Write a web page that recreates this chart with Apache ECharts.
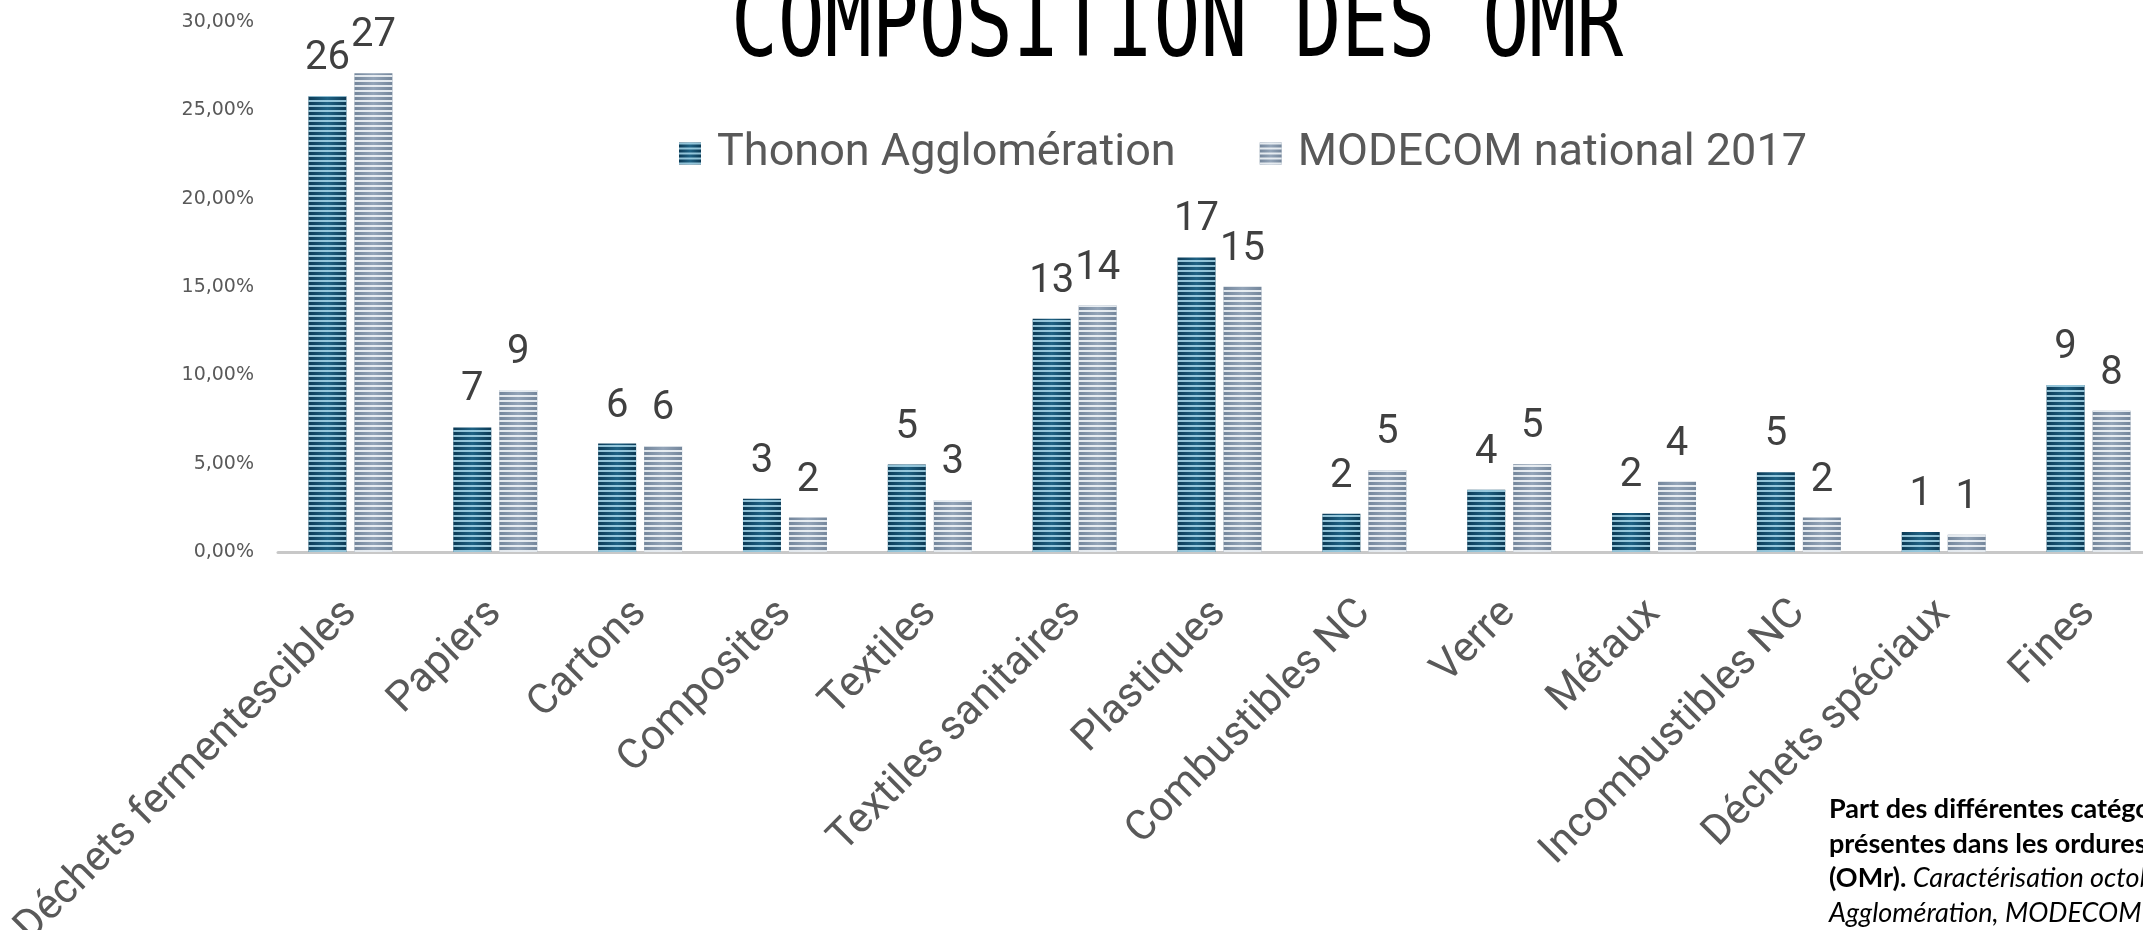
<!DOCTYPE html>
<html>
<head>
<meta charset="utf-8">
<script src="https://cdn.jsdelivr.net/npm/echarts@6/dist/echarts.min.js"></script>
<style>
html,body{margin:0;padding:0;background:#fff;overflow:hidden;}
#chart{width:2143px;height:930px;}
</style>
</head>
<body>
<div id="chart"></div>
<script>
const categories = ['Déchets fermentescibles','Papiers','Cartons','Composites','Textiles','Textiles sanitaires','Plastiques','Combustibles NC','Verre','Métaux','Incombustibles NC','Déchets spéciaux','Fines'];
const seriesNames = ['Thonon Agglomération','MODECOM national 2017'];
const thonon = [25.8, 7.05, 6.14, 3.02, 4.95, 13.2, 16.67, 2.17, 3.53, 2.21, 4.52, 1.13, 9.45];
const modecom = [27.1, 9.17, 5.99, 1.95, 2.95, 13.95, 15.02, 4.63, 4.97, 3.97, 1.95, 0.98, 8.0];
const yMin = 0, yMax = 30, yStep = 5;
const titleText = 'COMPOSITION DES OMR';
const captionLines = [
  ['b', 'Part des différentes catégories de déchets'],
  ['b', 'présentes dans les ordures ménagères résiduelles'],
  ['b', '(OMr).', 'i', ' Caractérisation octobre Thonon'],
  ['i', 'Agglomération, MODECOM national 2017.']
];

function grad(edge, center) {
  return new echarts.graphic.LinearGradient(0, 0, 1, 0, [
    {offset: 0, color: edge}, {offset: 0.5, color: center}, {offset: 1, color: edge}
  ]);
}

const chart = echarts.init(document.getElementById('chart'), null, {renderer: 'canvas'});

const labelCfg = {
  show: true, position: 'top', distance: 17,
  fontSize: 40, color: '#404040', fontFamily: 'Roboto',
  formatter: p => Math.round(p.value)
};

const captionText = captionLines.map(l => {
  let s = '';
  for (let i = 0; i < l.length; i += 2) s += '{' + l[i] + '|' + l[i+1] + '}';
  return s;
}).join('\n');

chart.setOption({
  animation: false,
  grid: {left: 278, top: 22, width: 1883, height: 530, containLabel: false, outerBoundsMode: 'none'},
  legend: {
    left: 674, top: 126, icon: 'rect',
    itemWidth: 22, itemHeight: 22, itemGap: 84,
    textStyle: {fontSize: 45, color: '#595959', fontFamily: 'Roboto', padding: [0, 0, 0, 11]},
    data: seriesNames
  },
  xAxis: {
    type: 'category', data: categories,
    axisLine: {lineStyle: {color: '#C8C8C8', width: 3}},
    axisTick: {show: false},
    axisLabel: {interval: 0, rotate: 45, fontSize: 42, color: '#595959', fontFamily: 'Roboto', margin: 55}
  },
  yAxis: {
    type: 'value', min: yMin, max: yMax, interval: yStep,
    splitLine: {show: false}, axisLine: {show: false}, axisTick: {show: false},
    axisLabel: {
      fontSize: 19, color: '#595959', fontFamily: 'DejaVu Sans', margin: 24,
      formatter: v => v.toFixed(2).replace('.', ',') + '%'
    }
  },
  series: [
    {
      name: seriesNames[0], type: 'bar', data: thonon, barWidth: 38, barGap: '21%',
      itemStyle: {
        color: grad('#0c3a55', '#1f6284'),
        decal: {symbol: 'rect', symbolSize: 1, dashArrayX: [4, 0], dashArrayY: [2, 3], color: 'rgba(175,222,240,0.82)'}
      },
      label: labelCfg
    },
    {
      name: seriesNames[1], type: 'bar', data: modecom, barWidth: 38,
      itemStyle: {
        color: grad('#74869b', '#93a4b8'),
        decal: {symbol: 'rect', symbolSize: 1, dashArrayX: [4, 0], dashArrayY: [2, 3], color: 'rgba(246,249,252,0.85)'}
      },
      label: labelCfg
    }
  ],
  graphic: [
    {
      type: 'text', x: 1177, y: 30, scaleX: 0.78,
      style: {text: titleText, font: '100px "DejaVu Sans Mono"', fill: '#000', textAlign: 'center', textVerticalAlign: 'middle', align: 'center', verticalAlign: 'middle'}
    },
    {
      type: 'text', x: 1829, y: 792,
      style: {
        text: captionText, fill: '#000', textAlign: 'left', textVerticalAlign: 'top', align: 'left', verticalAlign: 'top',
        rich: {
          b: {fontFamily: 'Lato', fontWeight: 'bold', fontSize: 27, lineHeight: 34.6, fill: '#000'},
          i: {fontFamily: 'Lato', fontStyle: 'italic', fontSize: 27, lineHeight: 34.6, fill: '#000'}
        }
      }
    }
  ]
});
</script>
</body>
</html>
